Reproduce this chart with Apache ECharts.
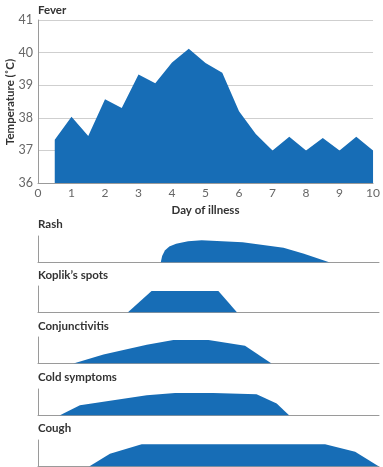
<!DOCTYPE html>
<html><head><meta charset="utf-8">
<script src="https://cdn.jsdelivr.net/npm/echarts@6/dist/echarts.min.js"></script>
<style>html,body{margin:0;padding:0;background:#fff}#c{width:383px;height:467px}</style>
</head><body><div id="c"></div>
<script>
// Fever: [day, temperature °C]
const feverDays  = [0.5, 1, 1.5, 2, 2.5, 3, 3.5, 4, 4.5, 5, 5.5, 6, 6.5, 7, 7.5, 8, 8.5, 9, 9.5, 10];
const feverTemps = [37.33, 38.03, 37.44, 38.57, 38.3, 39.33, 39.06, 39.7, 40.12, 39.68, 39.38, 38.2, 37.5, 37.0, 37.42, 37.0, 37.38, 37.0, 37.42, 37.0];
const xTicks = [0,1,2,3,4,5,6,7,8,9,10];
const yTicks = [36,37,38,39,40,41];

// Symptom intensity profiles (relative 0..1), [day, level]
const rashDays   = [3.6, 3.64, 3.72, 3.85, 4.05, 4.4, 4.8, 6.0, 7.2, 7.8, 8.56];
const rashLevels = [0, 0.25, 0.45, 0.6, 0.71, 0.8, 0.84, 0.76, 0.56, 0.33, 0];
const koplikDays   = [2.63, 3.33, 5.29, 5.84];
const koplikLevels = [0, 0.81, 0.81, 0];
const conjDays   = [1.04, 1.92, 3.19, 3.97, 5.0, 6.07, 6.85];
const conjLevels = [0, 0.34, 0.71, 0.89, 0.89, 0.67, 0];
const coldDays   = [0.63, 1.23, 3.19, 4.02, 5.14, 6.41, 7.0, 7.37];
const coldLevels = [0, 0.39, 0.76, 0.85, 0.85, 0.8, 0.45, 0];
const coughDays   = [1.5, 2.11, 3.04, 8.42, 9.3, 10.0];
const coughLevels = [0, 0.48, 0.84, 0.84, 0.56, 0];

const panelTitles = ['Rash', "Koplik’s spots", 'Conjunctivitis', 'Cold symptoms', 'Cough'];
const panelSeries = [
  [rashDays, rashLevels], [koplikDays, koplikLevels], [conjDays, conjLevels],
  [coldDays, coldLevels], [coughDays, coughLevels]
];

const BLUE = '#176db6';
const FONT = 'Lato, "Open Sans", sans-serif';
const zip = (a, b) => a.map((v, i) => [v, b[i]]);

const panelTops = [236, 286, 337, 389, 440];
const panelH = 26.5;
const titleY = [225, 276.5, 327.5, 378.5, 429];

const grids = [{left: 38, top: 20, width: 341, height: 163}];
const xAxes = [{
  type: 'value', gridIndex: 0, min: 0, max: 10, interval: 1,
  axisLine: {lineStyle: {color: '#9a9a9a', width: 1}}, axisTick: {show: false},
  splitLine: {show: false},
  axisLabel: {color: '#666', fontSize: 12, fontFamily: FONT, margin: 4},
  name: 'Day of illness', nameLocation: 'middle', nameGap: 21,
  nameTextStyle: {fontWeight: 'bold', fontSize: 11.5, color: '#333', fontFamily: FONT}
}];
const yAxes = [{
  type: 'value', gridIndex: 0, min: 36, max: 41, interval: 1,
  axisLine: {show: true, lineStyle: {color: '#9a9a9a', width: 1}}, axisTick: {show: false},
  splitLine: {lineStyle: {color: '#cfcfcf', width: 1}},
  axisLabel: {color: '#666', fontSize: 12.5, fontFamily: FONT, margin: 5}
}];
const series = [{
  type: 'line', xAxisIndex: 0, yAxisIndex: 0, data: zip(feverDays, feverTemps),
  symbol: 'none', lineStyle: {width: 0}, areaStyle: {color: BLUE, opacity: 1, origin: 'start'},
  silent: true
}];
const graphics = [{
  type: 'text', left: 38, top: 4,
  style: {text: 'Fever', font: 'bold 11.5px ' + FONT, fill: '#333'}
}, {
  type: 'text', x: 10, y: 102, rotation: Math.PI / 2,
  style: {text: 'Temperature (˚C)', font: 'bold 11.5px ' + FONT, fill: '#333',
          align: 'center', verticalAlign: 'middle'}
}];

panelSeries.forEach((p, i) => {
  const gi = i + 1;
  grids.push({left: 38, top: panelTops[i], width: 341, height: panelH});
  xAxes.push({
    type: 'value', gridIndex: gi, min: 0, max: 10,
    axisLine: {lineStyle: {color: '#9a9a9a', width: 1}}, axisTick: {show: false},
    axisLabel: {show: false}, splitLine: {show: false}
  });
  yAxes.push({
    type: 'value', gridIndex: gi, min: 0, max: 1,
    axisLine: {show: true, lineStyle: {color: '#9a9a9a', width: 1}}, axisTick: {show: false},
    axisLabel: {show: false}, splitLine: {show: false}
  });
  series.push({
    type: 'line', xAxisIndex: gi, yAxisIndex: gi, data: zip(p[0], p[1]),
    symbol: 'none', lineStyle: {width: 0}, areaStyle: {color: BLUE, opacity: 1, origin: 'start'},
    silent: true
  });
  graphics.push({
    type: 'text', left: 38, top: titleY[i] - 7,
    style: {text: panelTitles[i], font: 'bold 11.5px ' + FONT, fill: '#333'}
  });
});

const chart = echarts.init(document.getElementById('c'), null, {renderer: 'canvas'});
chart.setOption({
  animation: false,
  grid: grids, xAxis: xAxes, yAxis: yAxes, series: series, graphic: graphics
});
</script></body></html>
